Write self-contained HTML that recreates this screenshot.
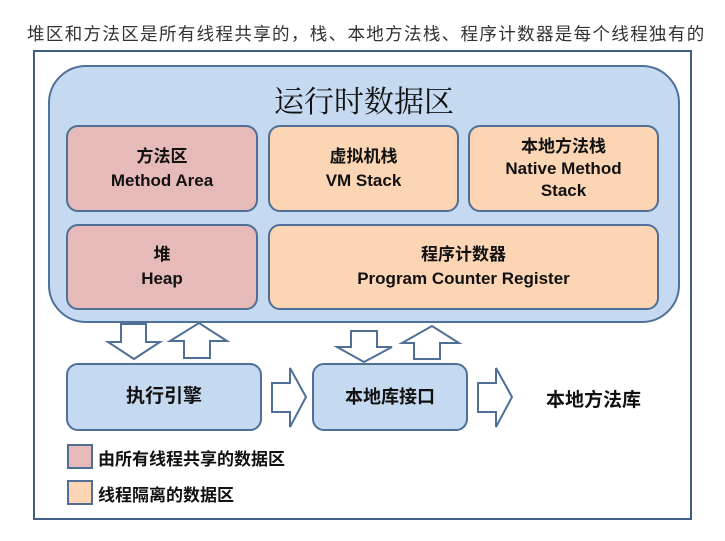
<!DOCTYPE html>
<html><head><meta charset="utf-8"><style>
body{margin:0;width:725px;height:541px;background:#fff;position:relative;overflow:hidden;font-family:"Liberation Sans","Noto Sans CJK SC",sans-serif;}
.a{position:absolute}
.cap{left:27px;top:21px;font-size:17.5px;color:#333;white-space:nowrap;letter-spacing:1.35px}
.frame{left:33px;top:50px;width:659px;height:470px;border:2px solid #3f5f86;box-sizing:border-box}
.big{left:48px;top:65px;width:632px;height:258px;background:#c5d9f0;border:2px solid #4f719a;border-radius:38px;box-sizing:border-box}
.box{position:absolute;box-sizing:border-box;border:2px solid #4f6f96;border-radius:12px;display:flex;flex-direction:column;align-items:center;justify-content:center;font-weight:bold;font-size:17px;color:#111;line-height:24px;text-align:center}
.r{background:#e6bab8}.o{background:#fcd5b4}.b{background:#c5d9f0}
</style></head><body>
<div class="a cap">堆区和方法区是所有线程共享的，栈、本地方法栈、程序计数器是每个线程独有的</div>
<div class="a frame"></div>
<div class="a big"></div>
<div class="a" style="left:48px;width:632px;top:77px;text-align:center;font-size:30px;font-family:'Noto Serif CJK SC',serif;color:#111">运行时数据区</div>
<div class="box r" style="left:66px;top:125px;width:192px;height:87px">方法区<br>Method Area</div>
<div class="box o" style="left:268px;top:125px;width:191px;height:87px">虚拟机栈<br>VM Stack</div>
<div class="box o" style="left:468px;top:125px;width:191px;height:87px;line-height:22px">本地方法栈<br>Native Method<br>Stack</div>
<div class="box r" style="left:66px;top:224px;width:192px;height:86px">堆<br>Heap</div>
<div class="box o" style="left:268px;top:224px;width:391px;height:86px">程序计数器<br>Program Counter Register</div>
<svg class="a" style="left:0;top:0" width="725" height="541">
<g fill="#fff" stroke="#4f6f96" stroke-width="2" stroke-linejoin="miter">
<polygon points="121,324 146,324 146,342 160,342 134,359 108,342 121,342"/>
<polygon points="184,358 210,358 210,341 227,341 199,323 170,341 184,341"/>
<polygon points="351,331 377,331 377,347 392,347 364,362 337,347 351,347"/>
<polygon points="414,359 440,359 440,343 459,343 432,326 402,343 414,343"/>
<polygon points="272,383 290,383 290,368 306,397 290,427 290,412 272,412"/>
<polygon points="478,383 496,383 496,368 512,397 496,427 496,412 478,412"/>
</g></svg>
<div class="box b" style="left:66px;top:363px;width:196px;height:68px;font-size:19px">执行引擎</div>
<div class="box b" style="left:312px;top:363px;width:156px;height:68px;font-size:18px">本地库接口</div>
<div class="a" style="left:546px;top:385px;font-size:19px;font-weight:bold;color:#111">本地方法库</div>
<div class="a" style="left:67px;top:444px;width:26px;height:25px;background:#e6bab8;border:2px solid #4f6f96;box-sizing:border-box"></div>
<div class="a" style="left:98px;top:445px;font-size:17px;font-weight:bold;color:#111">由所有线程共享的数据区</div>
<div class="a" style="left:67px;top:480px;width:26px;height:25px;background:#fcd5b4;border:2px solid #4f6f96;box-sizing:border-box"></div>
<div class="a" style="left:98px;top:481px;font-size:17px;font-weight:bold;color:#111">线程隔离的数据区</div>
</body></html>
